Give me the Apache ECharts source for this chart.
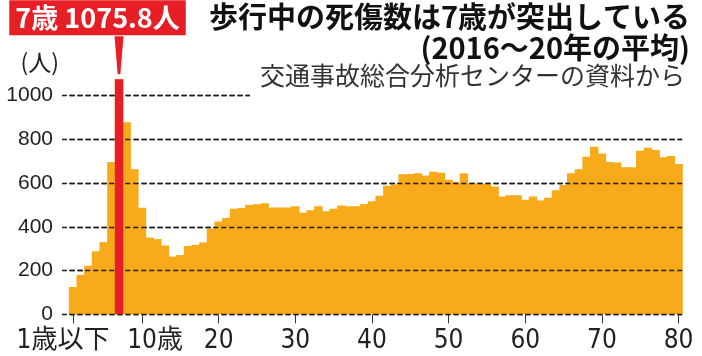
<!DOCTYPE html>
<html><head><meta charset="utf-8">
<script src="https://cdn.jsdelivr.net/npm/echarts@6/dist/echarts.min.js"></script>
<style>html,body{margin:0;padding:0;background:#fff}#c{width:702px;height:356px}</style>
</head><body><div id="c"></div>
<script>
// ---- data ----
const ages = [1,2,3,4,5,6,7,8,9,10,11,12,13,14,15,16,17,18,19,20,
  21,22,23,24,25,26,27,28,29,30,31,32,33,34,35,36,37,38,39,40,
  41,42,43,44,45,46,47,48,49,50,51,52,53,54,55,56,57,58,59,60,
  61,62,63,64,65,66,67,68,69,70,71,72,73,74,75,76,77,78,79,80];
const values = [125,180,222,288,330,697,1075.8,878,664,487,351,344,315,264,271,312,318,329,393,424,
  440,483,486,500,503,508,488,488,488,494,464,476,494,471,483,498,494,494,505,517,
  542,588,595,641,642,645,635,652,648,615,605,645,600,598,597,585,539,545,545,524,
  539,521,533,567,592,645,664,721,767,736,697,694,673,673,748,762,752,718,724,688];
const tickAges = [1,10,20,30,40,50,60,70,80];
const tickLabels = ['1歳以下','10歳','20','30','40','50','60','70','80'];
const yTicks = [0, 200, 400, 600, 800, 1000];
const highlightAge = 7;
const titleMain = '歩行中の死傷数は7歳が突出している';
const titleSub = '(2016〜20年の平均)';
const sourceText = '交通事故総合分析センターの資料から';
const yUnit = '(人)';

// ---- chart ----
const yMin = yTicks[0], yMax = yTicks[yTicks.length - 1], yStep = yTicks[1] - yTicks[0];
const CJK = "'Noto Sans CJK JP', sans-serif";
const XFONT = "'Liberation Sans Narrow', 'DejaVu Sans Condensed', 'Noto Sans CJK JP', sans-serif";
const ORANGE = '#F7AA1A', RED = '#E61E26';
const GRIDLINE = {type: [5, 3], color: '#1e1e1e', width: 1.3};
const hiIdx = ages.indexOf(highlightAge);
const isTick = (i) => tickAges.indexOf(ages[i]) >= 0;
const chart = echarts.init(document.getElementById('c'));
const option = {
  animation: false,
  backgroundColor: '#fff',
  title: [
    {text: titleMain, right: 12, top: 2, padding: 0, z: 10,
     textStyle: {fontFamily: CJK, fontSize: 29, fontWeight: 'bold', color: '#111'}},
    {text: titleSub, right: 12, top: 33, padding: 0, z: 10,
     textStyle: {fontFamily: CJK, fontSize: 29, fontWeight: 'bold', color: '#111'}},
    {text: sourceText, right: 12, top: 62, padding: [1, 5, 13, 10], backgroundColor: '#fff', z: 10,
     textStyle: {fontFamily: CJK, fontSize: 25, fontWeight: 'normal', color: '#333'}}
  ],
  grid: [
    {left: 62, right: 20, top: 95.7, bottom: 41.7},
    {left: 69.2, right: 19.6, top: 95.7, bottom: 41.7}
  ],
  xAxis: [
    {gridIndex: 0, type: 'value', show: false, min: 0, max: 1},
    {gridIndex: 1, type: 'category', data: ages, boundaryGap: true,
     axisLine: {show: false},
     axisTick: {show: true, alignWithLabel: true, interval: isTick, length: 9,
                lineStyle: {color: '#333', width: 1}},
     axisLabel: {interval: isTick, margin: 14, color: '#222',
       fontFamily: XFONT, fontSize: 26,
       formatter: (v, i) => {
         const k = tickAges.indexOf(ages[i]);
         const t = k >= 0 ? tickLabels[k] : '';
         if (k === 0) return '{a|' + t + '}';
         if (k === 1) return '{b|' + t + '}';
         return t;
       },
       rich: {
         a: {padding: [0, 20, 0, 0], fontSize: 26, color: '#222', fontFamily: XFONT},
         b: {padding: [0, 0, 0, 26], fontSize: 26, color: '#222', fontFamily: XFONT}
       }}}
  ],
  yAxis: [
    {gridIndex: 0, type: 'value', min: yMin, max: yMax, interval: yStep,
     name: yUnit, nameLocation: 'end', nameGap: 33,
     nameTextStyle: {fontFamily: CJK, fontSize: 23, color: '#222', align: 'right', verticalAlign: 'middle',
                     padding: [0, 3, 0, 0]},
     axisLine: {show: false}, axisTick: {show: false},
     splitLine: {show: true, lineStyle: GRIDLINE},
     axisLabel: {fontFamily: "'Liberation Sans', sans-serif", fontSize: 21, color: '#222', margin: 9,
                 padding: [0, 0, 6, 0], formatter: (v) => String(v)}},
    {gridIndex: 1, type: 'value', min: yMin, max: yMax, show: false}
  ],
  series: [
    {type: 'bar', xAxisIndex: 1, yAxisIndex: 1, data: values, clip: false, z: 2,
     barWidth: 8.4, itemStyle: {color: ORANGE},
     // dashed reference lines repeated above the bars, as in the original
     markLine: {silent: true, symbol: 'none', z: 4, label: {show: false},
       lineStyle: GRIDLINE, emphasis: {disabled: true},
       data: yTicks.map((v) => ({yAxis: v}))}},
    {type: 'bar', xAxisIndex: 1, yAxisIndex: 1, clip: false, z: 6,
     data: values.map((v, i) => i === hiIdx ? v : '-'),
     barGap: '-100%', barWidth: 8.4, itemStyle: {color: RED},
     label: {show: true, position: 'top', distance: 44, offset: [-21.5, 0],
       formatter: (p) => ages[p.dataIndex] + '歳 ' + p.value + '人',
       backgroundColor: RED, color: '#fff', fontFamily: CJK, fontWeight: 'bold',
       fontSize: 27, lineHeight: 29, padding: [3, 6, 3, 6]}}
  ]
};
chart.setOption(option);
// pointer wedge between the label box and the highlighted bar, placed from the bar's own pixel position
const barTop = chart.convertToPixel({xAxisIndex: 1, yAxisIndex: 1}, [hiIdx, values[hiIdx]]);
chart.setOption({series: [{}, {
  markPoint: {
    symbol: 'path://M0,0L10,0L6.5,40L3.5,40Z', symbolSize: [9, 38], symbolKeepAspect: false,
    label: {show: false}, itemStyle: {color: RED}, z: 7,
    data: [{x: barTop[0], y: barTop[1] - 24}]
  }}]});
</script></body></html>
